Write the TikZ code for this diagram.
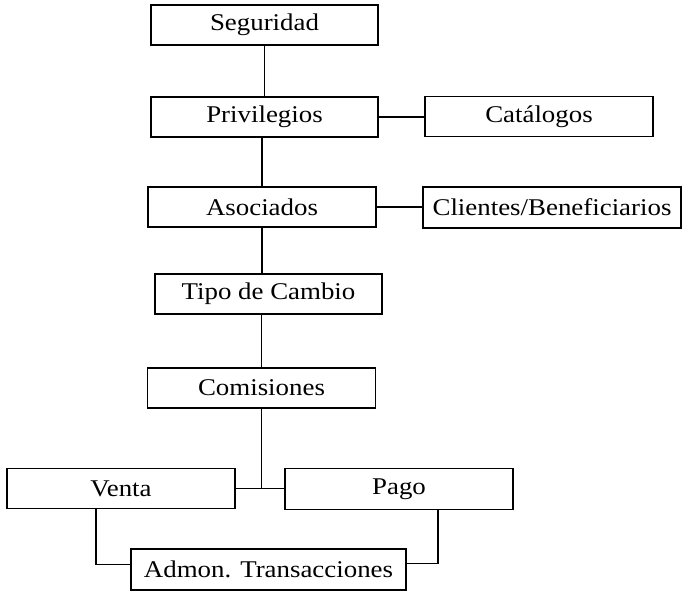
\documentclass[tikz,border=0pt]{standalone}
\usepackage{fontspec}
\setmainfont{Liberation Serif}[FakeStretch=1.12]
\begin{document}
\begin{tikzpicture}[x=1pt,y=1pt,
  box/.style={draw, line width=1.6pt, minimum height=40pt, inner sep=0pt,
    font=\fontsize{24}{28}\selectfont},
  link/.style={line width=1.6pt}]
\useasboundingbox (0,0) rectangle (682,-594);
\node[box, minimum width=227pt] (seg) at (264.5,-25) {Seguridad};
\node[box, minimum width=227pt] (priv) at (264.5,-117) {Privilegios};
\node[box, minimum width=228pt] (cat) at (539,-116.5) {Catálogos};
\node[box, minimum width=228pt] (asoc) at (262,-207) {Asociados};
\node[box, minimum width=258pt, minimum height=41pt] (cli) at (552,-207.5) {Clientes/Beneficiarios};
\node[box, minimum width=227pt] (tipo) at (268.5,-294) {Tipo de Cambio};
\node[box, minimum width=228pt] (com) at (261.5,-388) {Comisiones};
\node[box, minimum width=228pt] (venta) at (121,-488.5) {Venta};
\node[box, minimum width=228pt, minimum height=41pt] (pago) at (399,-489) {Pago};
\node[box, minimum width=275pt, minimum height=41pt] (adm) at (268.5,-569.5) {Admon. Transacciones};
\coordinate (J) at (com.south |- venta.east);
\draw[link] (seg.south) -- (seg.south |- priv.north);
\draw[link] (priv.east) -- (priv.east -| cat.west);
\draw[link] (asoc.north |- priv.south) -- (asoc.north);
\draw[link] (asoc.east) -- (asoc.east -| cli.west);
\draw[link] (asoc.south) -- (asoc.south |- tipo.north);
\draw[link] (com.north |- tipo.south) -- (com.north);
\draw[link] (com.south) -- (J);
\draw[link] (venta.east) -- (venta.east -| pago.west);
\draw[link] ([xshift=-25pt]venta.south) |- ([yshift=5pt]adm.west);
\draw[link] ([xshift=39pt]pago.south) |- ([yshift=6pt]adm.east);
\end{tikzpicture}
\end{document}
